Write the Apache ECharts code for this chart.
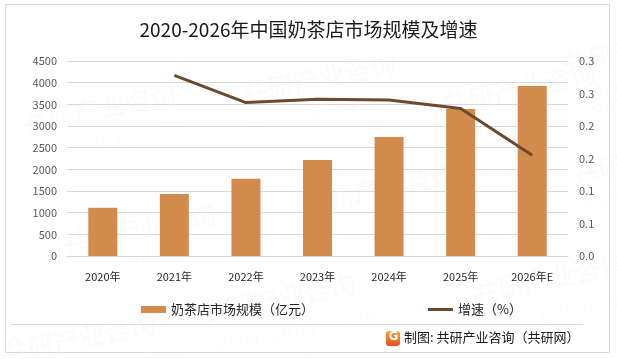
<!DOCTYPE html>
<html>
<head>
<meta charset="utf-8">
<script src="https://cdn.jsdelivr.net/npm/echarts@6/dist/echarts.min.js"></script>
<style>
html,body{margin:0;padding:0;background:#fff;}
#main{width:617px;height:359px;}
</style>
</head>
<body>
<div id="main"></div>
<script>
const categories = ['2020年','2021年','2022年','2023年','2024年','2025年','2026年E'];
const marketSize = [1115, 1430, 1780, 2215, 2745, 3395, 3925];
const growthRate = [null, 0.278, 0.236, 0.241, 0.240, 0.227, 0.155];
const barName = '奶茶店市场规模（亿元）';
const lineName = '增速（%）';
const titleText = '2020-2026年中国奶茶店市场规模及增速';
const footerText = '制图: 共研产业咨询（共研网）';

const FONT = '"Noto Sans CJK SC", "Noto Sans", sans-serif';
const chart = echarts.init(document.getElementById('main'), null, {renderer:'canvas'});

const wm = [];
const wmPos = [[20,80],[240,50],[60,200],[300,160],[440,60],[200,270],[470,250],[570,130],[0,310],[560,20]];
wmPos.forEach(p => {
  wm.push({type:'text', left:p[0], top:p[1], rotation:0.2, z:-10, silent:true,
    style:{text:'共研产业咨询', font:'bold 26px ' + FONT, fill:'rgba(0,0,0,0.015)'}});
  wm.push({type:'text', left:p[0]+12, top:p[1]+34, rotation:0.2, z:-10, silent:true,
    style:{text:'w w w . g o n y n . c o m', font:'16px ' + FONT, fill:'rgba(0,0,0,0.015)'}});
});

chart.setOption({
  animation:false,
  textStyle:{fontFamily:FONT},
  title:{text:titleText, left:'center', top:15,
    textStyle:{fontSize:19, fontWeight:'normal', color:'#1a1a1a', fontFamily:FONT}},
  grid:{left:67, right:49, top:61, bottom:103, containLabel:false},
  legend:{left:136, top:298, itemGap:114, itemWidth:25, itemHeight:7,
    textStyle:{fontSize:13, color:'#262626', fontFamily:FONT},
    data:[{name:barName, icon:'rect'},
          {name:lineName, icon:'path://M0,0L25,0L25,3L0,3Z', itemStyle:{color:'#6B4A2E'}}]},
  xAxis:{type:'category', data:categories,
    axisLine:{lineStyle:{color:'#d9d9d9'}}, axisTick:{show:false},
    axisLabel:{color:'#262626', fontSize:11, margin:15, fontFamily:FONT}},
  yAxis:[
    {type:'value', min:0, max:4500, interval:500,
      axisLine:{show:false}, axisTick:{show:false},
      axisLabel:{color:'#595959', fontSize:11, margin:10, fontFamily:FONT,
        formatter:v => String(v)},
      splitLine:{lineStyle:{color:'#d9d9d9'}}},
    {type:'value', min:0, max:0.3, interval:0.05,
      axisLine:{show:false}, axisTick:{show:false}, splitLine:{show:false},
      axisLabel:{color:'#595959', fontSize:11, margin:11, fontFamily:FONT,
        formatter:v => (Math.round(v*10)/10).toFixed(1)}}
  ],
  series:[
    {name:barName, type:'bar', data:marketSize, barWidth:29,
      itemStyle:{color:'#D38B4D'}},
    {name:lineName, type:'line', yAxisIndex:1, data:growthRate,
      symbol:'none', showSymbol:false, connectNulls:false,
      lineStyle:{color:'#6B4A2E', width:3}, itemStyle:{color:'#6B4A2E'}}
  ],
  graphic:[
    ...wm,
    {type:'rect', silent:true, z:-5, shape:{x:5.5, y:4.5, width:604, height:348},
      style:{fill:'none', stroke:'#d9d9d9', lineWidth:1}},
    {type:'line', silent:true, shape:{x1:10, y1:324.5, x2:583, y2:324.5},
      style:{stroke:'#d9d9d9', lineWidth:1}},
    {type:'rect', silent:true, shape:{x:386, y:331, width:14, height:15, r:3},
      style:{fill:new echarts.graphic.LinearGradient(0,0,0,1,[{offset:0,color:'#F7A23B'},{offset:1,color:'#E8501E'}])}},
    {type:'text', silent:true, left:388.5, top:331,
      style:{text:'G', font:'bold 12px "DejaVu Sans", sans-serif', fill:'#fff'}},
    {type:'text', silent:true, left:404, top:331,
      style:{text:footerText, font:'13px ' + FONT, fill:'#1a1a1a'}}
  ]
});
</script>
</body>
</html>
